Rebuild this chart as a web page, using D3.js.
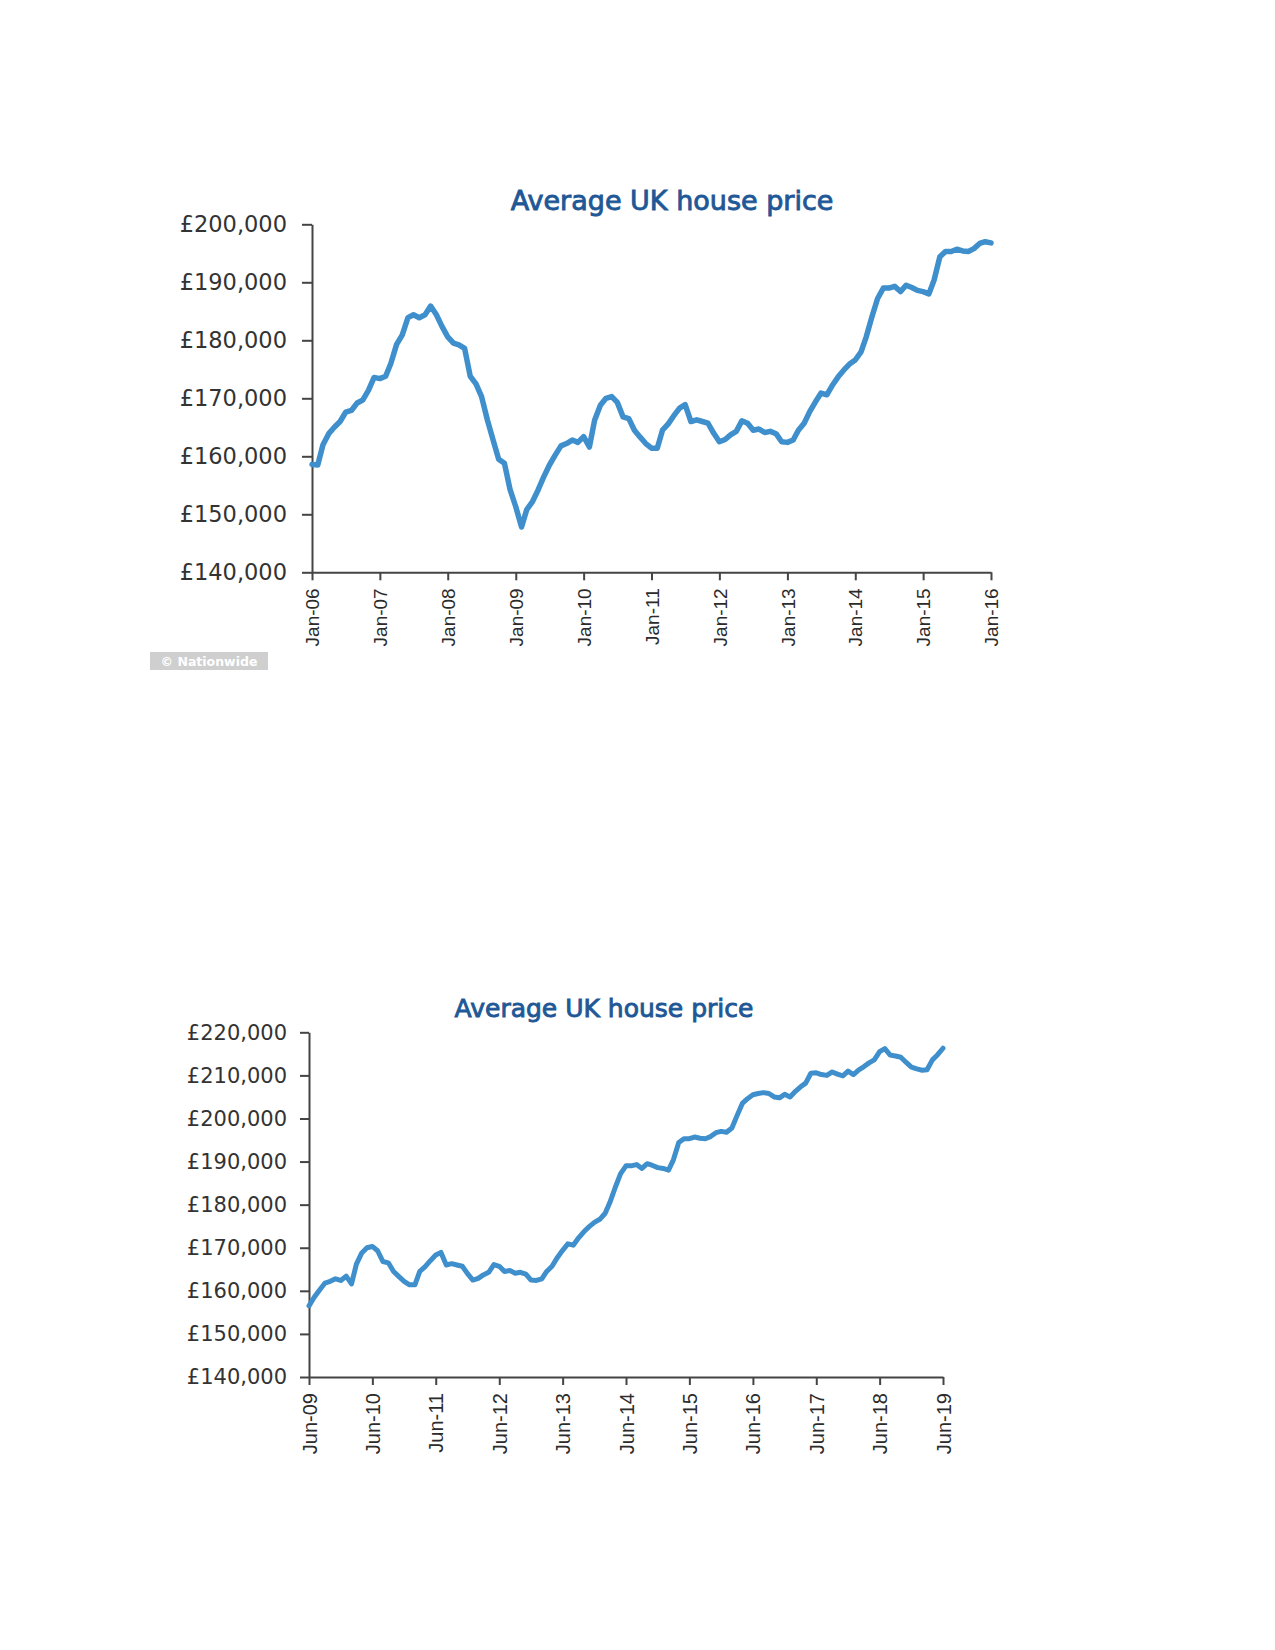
<!DOCTYPE html>
<html><head><meta charset="utf-8">
<script src="https://cdn.jsdelivr.net/npm/d3@7"></script>
<style>body{margin:0;background:#fff}</style>
</head><body>
<svg id="c" width="1275" height="1650"></svg>
<script>
// ---------- data ----------
const titleText = "Average UK house price";
const watermarkText = "\u00A9 Nationwide";

// Top chart: monthly, Jan-06 .. Jan-16 (£ thousands)
const topStart = "Jan-06";
const topPrices = [
158.6,158.5,162.0,163.9,165.0,166.0,167.6,167.9,169.2,169.7,171.4,173.6,
173.4,173.8,176.0,179.3,180.9,183.9,184.4,183.9,184.4,185.9,184.4,182.4,
180.6,179.5,179.2,178.6,173.8,172.5,170.3,166.3,162.8,159.5,158.8,154.3,
151.3,147.8,150.8,152.2,154.2,156.5,158.5,160.2,161.8,162.2,162.8,162.4,
163.4,161.6,166.2,168.8,170.0,170.3,169.3,166.8,166.5,164.5,163.3,162.2,
161.4,161.4,164.5,165.6,167.0,168.3,168.9,166.0,166.3,166.0,165.7,164.0,
162.5,162.9,163.7,164.3,166.1,165.7,164.5,164.7,164.1,164.3,163.9,162.5,
162.4,162.8,164.5,165.7,167.7,169.4,170.9,170.6,172.3,173.7,174.9,175.9,
176.6,178.0,180.6,184.1,187.2,189.0,189.0,189.3,188.4,189.5,189.1,188.6,
188.4,188.0,190.4,194.4,195.3,195.3,195.7,195.4,195.3,195.8,196.7,197.0,
196.8];
const topXTicks = ["Jan-06","Jan-07","Jan-08","Jan-09","Jan-10","Jan-11","Jan-12","Jan-13","Jan-14","Jan-15","Jan-16"];
const topYTicks = [140000,150000,160000,170000,180000,190000,200000];

// Bottom chart: monthly, Jun-09 .. Jun-19 (£ thousands)
const bottomStart = "Jun-09";
const bottomPrices = [
156.5,158.5,160.2,161.8,162.2,162.8,162.4,
163.4,161.6,166.2,168.8,170.0,170.3,169.3,166.8,166.5,164.5,163.3,162.2,
161.4,161.4,164.5,165.6,167.0,168.3,168.9,166.0,166.3,166.0,165.7,164.0,
162.5,162.9,163.7,164.3,166.1,165.7,164.5,164.7,164.1,164.3,163.9,162.5,
162.4,162.8,164.5,165.7,167.7,169.4,170.9,170.6,172.3,173.7,174.9,175.9,
176.6,178.0,180.6,184.1,187.2,189.0,189.0,189.3,188.4,189.5,189.1,188.6,
188.4,188.0,190.4,194.4,195.3,195.3,195.7,195.4,195.3,195.8,196.7,197.0,
196.8,197.8,200.6,203.5,204.6,205.5,205.8,206.0,205.8,205.0,204.8,205.6,
205.0,206.3,207.3,208.2,210.5,210.6,210.2,210.0,210.8,210.3,209.9,211.0,
210.2,211.3,212.0,212.9,213.6,215.5,216.2,214.7,214.5,214.2,213.0,211.9,
211.5,211.2,211.3,213.6,214.8,216.3];
const bottomXTicks = ["Jun-09","Jun-10","Jun-11","Jun-12","Jun-13","Jun-14","Jun-15","Jun-16","Jun-17","Jun-18","Jun-19"];
const bottomYTicks = [140000,150000,160000,170000,180000,190000,200000,210000,220000];

// ---------- drawing ----------
const svg = d3.select("#c");
const parseM = d3.timeParse("%b-%y");
const fmtM = d3.timeFormat("%b-%y");
const fmtY = v => "\u00A3" + d3.format(",")(v);

function drawChart(o) {
  const start = parseM(o.start);
  const data = o.prices.map((v, i) => ({d: d3.timeMonth.offset(start, i), v: v * 1000}));
  const tickDates = o.xTicks.map(parseM);
  const x = d3.scaleTime().domain([tickDates[0], tickDates[tickDates.length - 1]]).range([o.left, o.right]);
  const y = d3.scaleLinear().domain([o.yTicks[0], o.yTicks[o.yTicks.length - 1]]).range([o.bottom, o.top]);
  const g = svg.append("g");

  g.append("text").attr("x", o.titleX).attr("y", o.titleY)
    .attr("text-anchor", "middle")
    .style("font-family", "'DejaVu Sans', sans-serif")
    .style("font-size", o.titleSize + "px")
    .style("fill", "#1f5896").style("stroke", "#1f5896").style("stroke-width", 0.9)
    .text(titleText);

  const ya = g.append("g").attr("transform", `translate(${o.left},0)`)
    .call(d3.axisLeft(y).tickValues(o.yTicks).tickFormat(fmtY).tickSize(o.yTickLen).tickSizeOuter(0).tickPadding(o.yPad));
  ya.select(".domain").attr("stroke", "#444").attr("stroke-width", 2);
  ya.selectAll(".tick line").attr("stroke", "#444").attr("stroke-width", 2);
  ya.selectAll(".tick text").style("font-family", "'DejaVu Sans', sans-serif")
    .style("font-size", o.yFont + "px").style("fill", "#333");

  const xa = g.append("g").attr("transform", `translate(0,${o.bottom})`)
    .call(d3.axisBottom(x).tickValues(tickDates).tickFormat(fmtM).tickSize(8).tickSizeOuter(0));
  xa.select(".domain").attr("stroke", "#444").attr("stroke-width", 2);
  xa.selectAll(".tick line").attr("stroke", "#444").attr("stroke-width", 2);
  xa.selectAll(".tick text")
    .attr("transform", "rotate(-90)")
    .attr("x", -o.xPad).attr("y", 0).attr("dy", "0.35em")
    .style("text-anchor", "end")
    .style("font-family", "'Liberation Sans', Arial, sans-serif")
    .style("font-size", o.xFont + "px").style("fill", "#2b2b2b");

  const line = d3.line().x(d => x(d.d)).y(d => y(d.v));
  g.append("path").datum(data).attr("d", line)
    .attr("fill", "none").attr("stroke", "#3f8fcd").attr("stroke-width", o.lineW)
    .attr("stroke-linejoin", "round").attr("stroke-linecap", "round");
  return g;
}

drawChart({start: topStart, prices: topPrices, xTicks: topXTicks, yTicks: topYTicks,
  left: 312, right: 991, top: 224.3, bottom: 572.3,
  titleX: 672, titleY: 210, titleSize: 27,
  yTickLen: 10, yPad: 15, yFont: 22.5, xPad: 16, xFont: 19, lineW: 5.5});

drawChart({start: bottomStart, prices: bottomPrices, xTicks: bottomXTicks, yTicks: bottomYTicks,
  left: 309, right: 943, top: 1032.3, bottom: 1377,
  titleX: 604, titleY: 1017, titleSize: 25,
  yTickLen: 9, yPad: 13, yFont: 21, xPad: 16, xFont: 20, lineW: 5});

// watermark
const wm = svg.append("g");
wm.append("rect").attr("x", 150).attr("y", 652).attr("width", 118).attr("height", 18).attr("fill", "#cfcfcf");
wm.append("text").attr("x", 209).attr("y", 666).attr("text-anchor", "middle")
  .style("font-family", "'DejaVu Sans', sans-serif").style("font-size", "12.5px").style("font-weight", "bold")
  .style("fill", "#ffffff").text(watermarkText);
</script>
</body></html>
